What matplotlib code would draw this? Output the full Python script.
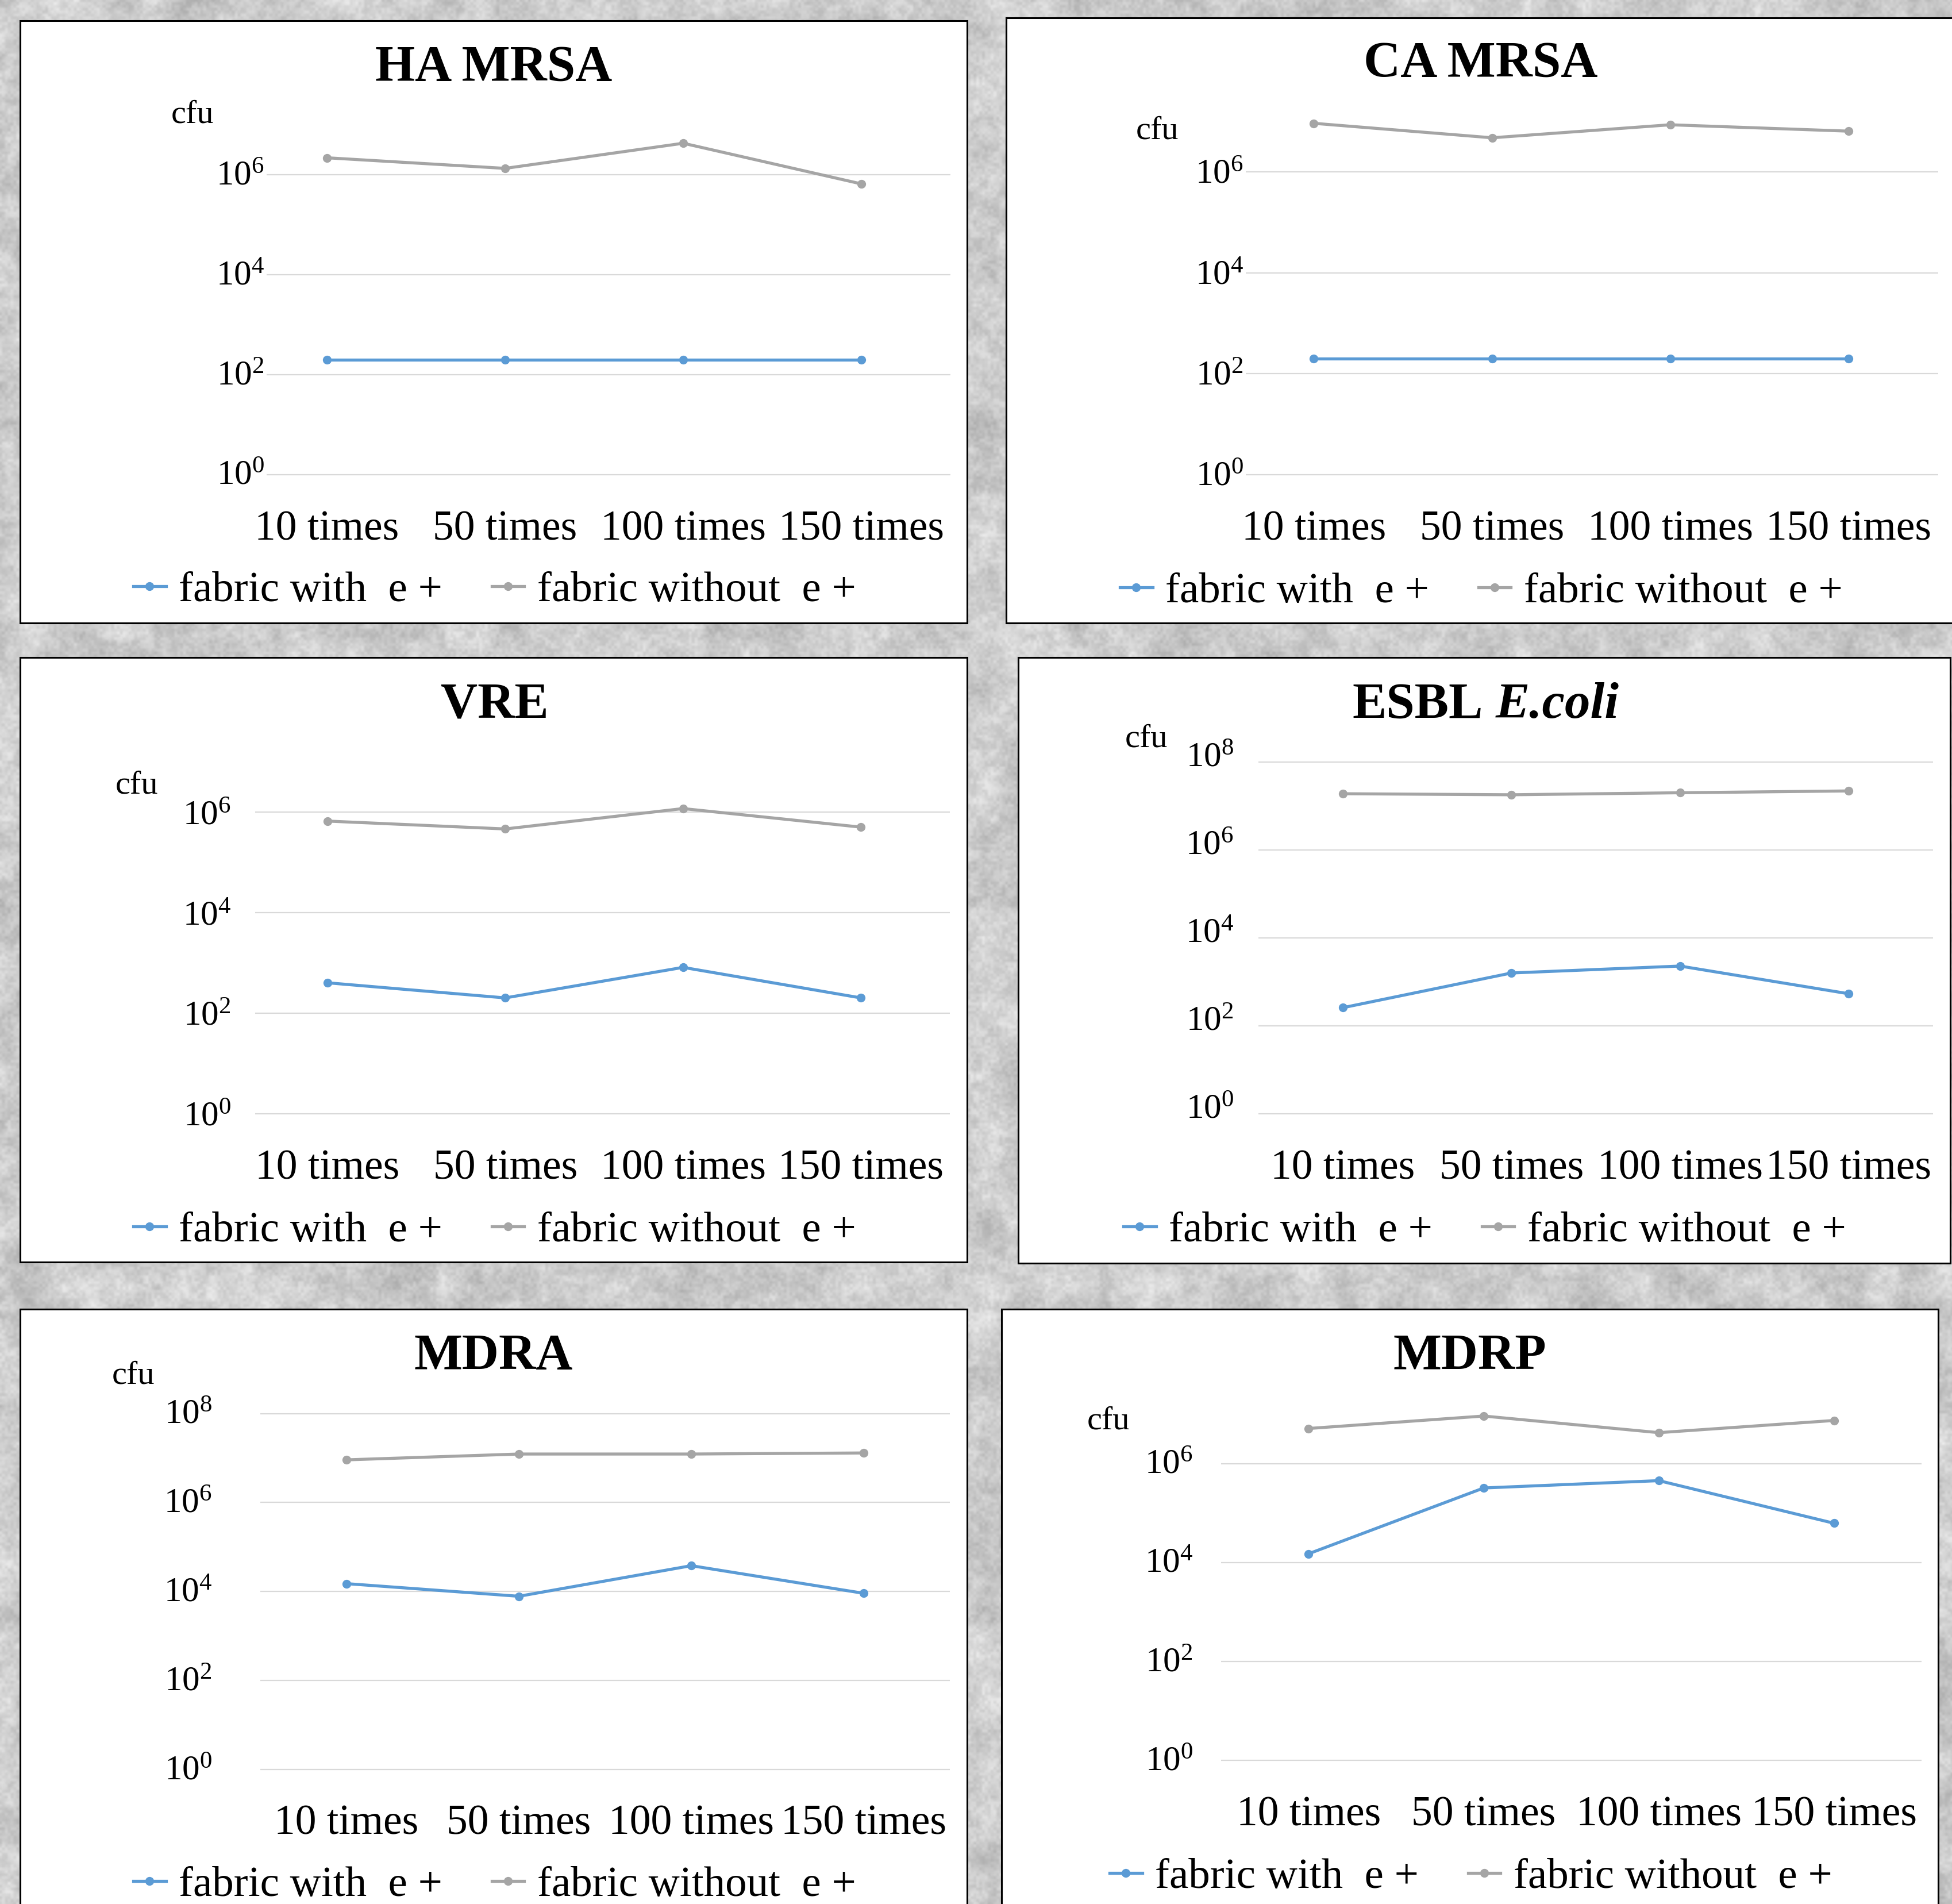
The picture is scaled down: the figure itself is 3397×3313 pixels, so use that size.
import numpy as np
import matplotlib
matplotlib.use('Agg')
import matplotlib.pyplot as plt
from matplotlib.patches import Rectangle
from matplotlib.ticker import NullLocator, NullFormatter
from matplotlib.transforms import ScaledTranslation

plt.rcParams['font.family'] = ['Liberation Serif', 'DejaVu Serif']
plt.rcParams['mathtext.fontset'] = 'custom'
plt.rcParams['mathtext.rm'] = 'Liberation Serif'
plt.rcParams['mathtext.it'] = 'Liberation Serif:italic'
plt.rcParams['mathtext.bf'] = 'Liberation Serif:bold'

W, H = 3397, 3313
BLUE = '#5b9bd5'
GRAY = '#a5a5a5'

# wash counts on the x axis and the two fabrics compared
washes = ['10 times', '50 times', '100 times', '150 times']
series_names = ['fabric with  e +', 'fabric without  e +']

# surviving bacteria (cfu) per wash count
ha_mrsa_with = [2.0e2, 2.0e2, 2.0e2, 2.0e2]
ha_mrsa_without = [2.2e6, 1.35e6, 4.3e6, 6.6e5]

ca_mrsa_with = [2.0e2, 2.0e2, 2.0e2, 2.0e2]
ca_mrsa_without = [9.3e6, 4.8e6, 8.7e6, 6.5e6]

vre_with = [4.0e2, 2.0e2, 8.1e2, 2.0e2]
vre_without = [6.6e5, 4.6e5, 1.17e6, 5.0e5]

esbl_with = [2.6e2, 1.6e3, 2.3e3, 5.4e2]
esbl_without = [1.9e7, 1.8e7, 2.0e7, 2.2e7]

mdra_with = [1.5e4, 7.8e3, 3.8e4, 9.1e3]
mdra_without = [9.1e6, 1.23e7, 1.23e7, 1.3e7]

mdrp_with = [1.5e4, 3.2e5, 4.5e5, 6.2e4]
mdrp_without = [5.1e6, 9.1e6, 4.2e6, 7.4e6]


def fx(x):
    return x / W


def fy(y):
    return 1 - y / H


def value_noise(h, w, cell, seed):
    gy = np.arange(h) / cell
    gx = np.arange(w) / cell
    iy = np.floor(gy)
    ix = np.floor(gx)
    A, B = np.meshgrid(ix, iy)
    TX, TY = np.meshgrid(gx - ix, gy - iy)
    sx = TX * TX * (3 - 2 * TX)
    sy = TY * TY * (3 - 2 * TY)

    def lattice(a, b):
        v = np.sin(a * 12.9898 + b * 78.233 + seed * 37.719) * 43758.5453
        return v - np.floor(v)

    top = lattice(A, B) + (lattice(A + 1, B) - lattice(A, B)) * sx
    bot = lattice(A, B + 1) + (lattice(A + 1, B + 1) - lattice(A, B + 1)) * sx
    return top + (bot - top) * sy


# (title, blue series, gray series, layout in pixels)
panels = [
    dict(title='HA MRSA', vals=(ha_mrsa_with, ha_mrsa_without),
         frame=(35, 36, 1683, 1084), gx=(464, 1654), xlim=(-0.339, 3.5),
         y0=825.7, dec=86.9, top=7.0, ymax=6, pad=4, lab_dy=4,
         title_xy=(859, 140), cfu_xy=(298, 214), leg_xy=(861, 1028)),
    dict(title='CA MRSA', vals=(ca_mrsa_with, ca_mrsa_without),
         frame=(1751, 31, 3420, 1084), gx=(2168, 3373), xlim=(-0.382, 3.503),
         y0=825.7, dec=87.7, top=7.3, ymax=6, pad=4, lab_dy=2,
         title_xy=(2577, 133), cfu_xy=(1977, 242), leg_xy=(2578, 1030)),
    dict(title='VRE', vals=(vre_with, vre_without),
         frame=(35, 1144, 1683, 2196), gx=(444, 1653), xlim=(-0.406, 3.5),
         y0=1937.6, dec=87.45, top=7.0, ymax=6, pad=42, lab_dy=0,
         title_xy=(861, 1249), cfu_xy=(201, 1380), leg_xy=(861, 2142)),
    dict(title=None, vals=(esbl_with, esbl_without),
         frame=(1772, 1144, 3394, 2198), gx=(2190, 3364), xlim=(-0.5, 3.5),
         y0=1938.3, dec=76.55, top=8.15, ymax=8, pad=43, lab_dy=14,
         title_xy=(2583, 1249), cfu_xy=(1958, 1299), leg_xy=(2584, 2142)),
    dict(title='MDRA', vals=(mdra_with, mdra_without),
         frame=(35, 2278, 1683, 3340), gx=(453, 1653), xlim=(-0.5, 3.5),
         y0=3078.8, dec=77.4, top=8.15, ymax=8, pad=84, lab_dy=4,
         title_xy=(859, 2382), cfu_xy=(195, 2407), leg_xy=(861, 3281)),
    dict(title='MDRP', vals=(mdrp_with, mdrp_without),
         frame=(1743, 2278, 3373, 3340), gx=(2125, 3344), xlim=(-0.5, 3.5),
         y0=3063.1, dec=86.1, top=7.25, ymax=6, pad=49, lab_dy=4,
         title_xy=(2558, 2382), cfu_xy=(1892, 2486), leg_xy=(2560, 3267)),
]

fig = plt.figure(figsize=(W / 100, H / 100), dpi=100)

# mottled grey backdrop behind the chart frames
th, tw = H // 2, W // 2
noise = (0.4 * value_noise(th, tw, 26, 1) + 0.3 * value_noise(th, tw, 8, 2)
         + 0.3 * value_noise(th, tw, 2.5, 3))
texture = 0.80 + 0.28 * (noise - 0.5)
bg = fig.add_axes([0, 0, 1, 1], zorder=-10)
bg.imshow(texture, cmap='gray', vmin=0, vmax=1, aspect='auto', interpolation='bilinear')
bg.axis('off')

x = np.arange(len(washes))
lo = -0.06

for p in panels:
    x0, y0f, x1, y1f = p['frame']
    fig.add_artist(Rectangle((fx(x0), fy(y1f)), (x1 - x0) / W, (y1f - y0f) / H,
                             transform=fig.transFigure, facecolor='white',
                             edgecolor='black', lw=2.2, zorder=-5))

    bottom_px = p['y0'] - lo * p['dec']
    top_px = p['y0'] - p['top'] * p['dec']
    gx0, gx1 = p['gx']
    ax = fig.add_axes([fx(gx0), fy(bottom_px), (gx1 - gx0) / W, (bottom_px - top_px) / H])
    ax.set_yscale('log')
    ax.set_ylim(10 ** lo, 10 ** p['top'])
    ax.set_xlim(*p['xlim'])
    ax.patch.set_visible(False)
    for s in ax.spines.values():
        s.set_visible(False)

    exps = list(range(0, p['ymax'] + 1, 2))
    ax.set_yticks([10.0 ** k for k in exps])
    ax.set_yticklabels([r'$\mathregular{10^{%d}}$' % k for k in exps])
    ax.yaxis.set_minor_locator(NullLocator())
    ax.yaxis.set_minor_formatter(NullFormatter())
    ax.tick_params(axis='y', length=0, pad=p['pad'] * 0.72, labelsize=44)
    shift = ScaledTranslation(0, p['lab_dy'] / 100, fig.dpi_scale_trans)
    for lab in ax.get_yticklabels():
        lab.set_transform(lab.get_transform() + shift)
    ax.set_xticks(x)
    ax.set_xticklabels(washes)
    ax.tick_params(axis='x', length=0, pad=41, labelsize=53)
    ax.grid(axis='y', which='major', color='#d9d9d9', lw=1.6)
    ax.set_axisbelow(True)

    with_vals, without_vals = p['vals']
    ax.plot(x, with_vals, color=BLUE, lw=3.8, marker='o', ms=10, label=series_names[0])
    ax.plot(x, without_vals, color=GRAY, lw=3.8, marker='o', ms=10, label=series_names[1])

    lx, ly = p['leg_xy']
    ax.legend(loc='center', bbox_to_anchor=(fx(lx), fy(ly)), bbox_transform=fig.transFigure,
              ncol=2, frameon=False, fontsize=54, handlelength=0.75,
              handletextpad=0.3, columnspacing=1.15, borderpad=0, borderaxespad=0)

    tx, ty = p['title_xy']
    if p['title'] is not None:
        fig.text(fx(tx), fy(ty), p['title'], ha='center', va='baseline',
                 fontsize=64, fontweight='bold')
    else:
        fig.text(fx(2581), fy(ty), 'ESBL', ha='right', va='baseline',
                 fontsize=64, fontweight='bold')
        fig.text(fx(2603), fy(ty), 'E.coli', ha='left', va='baseline',
                 fontsize=64, fontweight='bold', fontstyle='italic')

    cx, cy = p['cfu_xy']
    fig.text(fx(cx), fy(cy), 'cfu', ha='left', va='baseline', fontsize=42)

fig.savefig('out.png', dpi=100)
